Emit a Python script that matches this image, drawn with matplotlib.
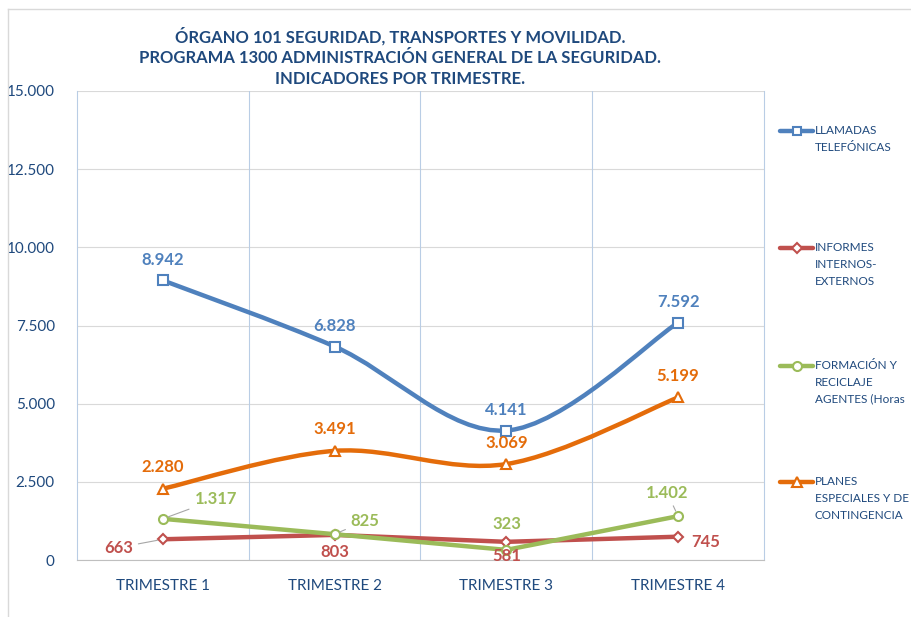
import matplotlib
matplotlib.use("Agg")
import matplotlib.pyplot as plt
from matplotlib.path import Path
from matplotlib.patches import PathPatch
from matplotlib.lines import Line2D
from matplotlib.ticker import FuncFormatter

# =========================================================
# data
# =========================================================
categories = ["TRIMESTRE 1", "TRIMESTRE 2", "TRIMESTRE 3", "TRIMESTRE 4"]
llamadas = [8942, 6828, 4141, 7592]
informes = [663, 803, 581, 745]
formacion = [1317, 825, 323, 1402]
planes = [2280, 3491, 3069, 5199]

legend_labels = ["LLAMADAS\nTELEFÓNICAS",
                 "INFORMES\nINTERNOS-\nEXTERNOS",
                 "FORMACIÓN Y\nRECICLAJE\nAGENTES (Horas",
                 "PLANES\nESPECIALES Y DE\nCONTINGENCIA"]
title = ("ÓRGANO 101 SEGURIDAD, TRANSPORTES Y MOVILIDAD.\n"
         "PROGRAMA 1300 ADMINISTRACIÓN GENERAL DE LA SEGURIDAD.\n"
         "INDICADORES POR TRIMESTRE.")

# =========================================================
# style
# =========================================================
BLUE = "#4F81BD"
RED = "#C0504D"
GREEN = "#9BBB59"
ORANGE = "#E46C0A"
TXT = "#1F497D"
plt.rcParams['font.family'] = ['Lato', 'DejaVu Sans']


def fmt(v):
    return f"{v:,.0f}".replace(",", ".")


def smooth_path(xs, ys):
    # excel-like smoothed line: cubic bezier, catmull-rom style tangents
    n = len(xs)
    verts = [(xs[0], ys[0])]
    codes = [Path.MOVETO]
    for i in range(n - 1):
        p0 = (xs[max(i - 1, 0)], ys[max(i - 1, 0)])
        p1 = (xs[i], ys[i])
        p2 = (xs[i + 1], ys[i + 1])
        p3 = (xs[min(i + 2, n - 1)], ys[min(i + 2, n - 1)])
        c1 = (p1[0] + (p2[0] - p0[0]) / 6, p1[1] + (p2[1] - p0[1]) / 6)
        c2 = (p2[0] - (p3[0] - p1[0]) / 6, p2[1] - (p3[1] - p1[1]) / 6)
        verts += [c1, c2, p2]
        codes += [Path.CURVE4] * 3
    return Path(verts, codes)


fig = plt.figure(figsize=(9.12, 6.17), dpi=100)
ax = fig.add_axes([77 / 912, 1 - 560 / 617, 687 / 912, 469 / 617])

x = [1, 2, 3, 4]
lw = 3.2
ms = 6.5

# blue - smoothed
ax.add_patch(PathPatch(smooth_path(x, llamadas), fill=False, edgecolor=BLUE,
                       lw=lw, capstyle='round', joinstyle='round', zorder=3))
ax.plot(x, llamadas, ls='none', marker='s', ms=ms, mfc='white', mec=BLUE, mew=1.5, zorder=4)
# red - straight
ax.plot(x, informes, color=RED, lw=lw, marker='D', ms=5.5, mfc='white', mec=RED,
        mew=1.5, zorder=5, solid_capstyle='round')
# green - straight
ax.plot(x, formacion, color=GREEN, lw=lw, marker='o', ms=ms, mfc='white', mec=GREEN,
        mew=1.5, zorder=6, solid_capstyle='round')
# orange - smoothed
ax.add_patch(PathPatch(smooth_path(x, planes), fill=False, edgecolor=ORANGE,
                       lw=lw, capstyle='round', joinstyle='round', zorder=7))
ax.plot(x, planes, ls='none', marker='^', ms=7, mfc='white', mec=ORANGE, mew=1.5, zorder=8)

# axes
ax.set_xlim(0.5, 4.5)
ax.set_ylim(0, 15000)
ax.set_yticks(range(0, 15001, 2500))
ax.yaxis.set_major_formatter(FuncFormatter(lambda v, p: fmt(v)))
ax.set_xticks(x)
ax.set_xticklabels(categories)
ax.tick_params(axis='both', length=0, labelsize=11, colors=TXT)
ax.tick_params(axis='y', pad=16)
ax.tick_params(axis='x', pad=14)
ax.grid(axis='y', color='#D9D9D9', lw=0.8)
for b in [1.5, 2.5, 3.5]:
    ax.axvline(b, color='#B9CDE5', lw=0.8, zorder=1)
ax.set_axisbelow(True)
ax.spines['top'].set_visible(False)
ax.spines['left'].set_color('#B9CDE5')
ax.spines['bottom'].set_color('#BFBFBF')
ax.spines['right'].set_color('#B9CDE5')

# data labels
lab_kw = dict(textcoords='offset points', ha='center', va='center',
              fontsize=12, fontweight='bold', zorder=10)
for xi, v in zip(x, llamadas):
    ax.annotate(fmt(v), (xi, v), xytext=(0, 15), color=BLUE, **lab_kw)
for xi, v in zip(x, planes):
    ax.annotate(fmt(v), (xi, v), xytext=(0, 15.5), color=ORANGE, **lab_kw)

leader = dict(arrowstyle='-', color='#A6A6A6', lw=0.8, shrinkA=2, shrinkB=4)
green_off = [(38, 14), (22, 9.5), (0, 18.5), (-8, 17)]
for xi, v, off in zip(x, formacion, green_off):
    ax.annotate(fmt(v), (xi, v), xytext=off, color=GREEN,
                arrowprops=leader if off[0] != 0 else None, **lab_kw)
red_off = [(-32, -6), (0, -12), (0, -10), (20, -4)]
for xi, v, off in zip(x, informes, red_off):
    ax.annotate(fmt(v), (xi, v), xytext=off, color=RED,
                arrowprops=leader if xi == 1 else None, **lab_kw)

# title
fig.text(400 / 912, 1 - 57 / 617, title, ha='center', va='center', fontsize=12,
         fontweight='bold', color=TXT, linespacing=1.4)

# legend drawn by hand (multi-line labels, handle on first line)
series = [(BLUE, 's', 6), (RED, 'D', 5), (GREEN, 'o', 6.5), (ORANGE, '^', 7)]
leg_y = [131, 248, 366, 482]
for (c, m, s), y, lbl in zip(series, leg_y, legend_labels):
    yf = 1 - y / 617
    fig.add_artist(Line2D([780 / 912, 813 / 912], [yf, yf], color=c, lw=lw,
                          solid_capstyle='round'))
    fig.add_artist(Line2D([797 / 912], [yf], marker=m, ms=s, mfc='white', mec=c,
                          mew=1.5, ls='none'))
    fig.text(815 / 912, yf + 6 / 617, lbl, ha='left', va='top', fontsize=8.5,
             color=TXT, linespacing=1.65)

# chart area border (left and top edges visible)
fig.add_artist(Line2D([8 / 912, 8 / 912], [0, 1 - 9 / 617], color='#D9D9D9', lw=1))
fig.add_artist(Line2D([8 / 912, 1], [1 - 9 / 617, 1 - 9 / 617], color='#D9D9D9', lw=1))

plt.savefig('out.png', dpi=100)
